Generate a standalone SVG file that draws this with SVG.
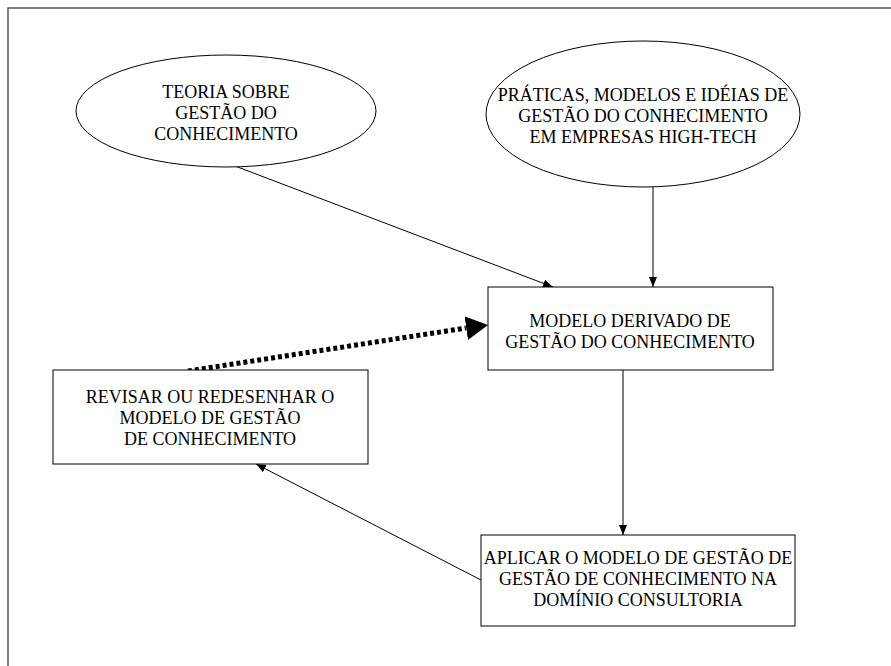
<svg xmlns="http://www.w3.org/2000/svg" width="891" height="666" viewBox="0 0 891 666">
<style>
.shape{fill:#fff;stroke:#000;stroke-width:1}
.frame{fill:none;stroke:#555;stroke-width:1.5}
.t{font-family:"Liberation Serif","Times New Roman",serif;font-size:18px;fill:#000;text-anchor:middle}
.c{fill:none;stroke:#000;stroke-width:1}
.d{fill:none;stroke:#000;stroke-width:5;stroke-dasharray:4 3}
</style>
<defs>
<marker id="ah" markerWidth="10" markerHeight="8" refX="10" refY="4" orient="auto" markerUnits="userSpaceOnUse">
<path d="M0,0 L10,4 L0,8 Z" fill="#000"/>
</marker>
<marker id="big" markerWidth="22" markerHeight="24" refX="22" refY="12" orient="auto" markerUnits="userSpaceOnUse">
<path d="M0,0 L22,12 L0,24 Z" fill="#000"/>
</marker>
</defs>
<rect class="frame" x="8" y="8" width="900" height="680"/>
<g id="connectors">
<line class="c" x1="235" y1="166" x2="553" y2="287" marker-end="url(#ah)"/>
<line class="c" x1="653" y1="187" x2="653" y2="287" marker-end="url(#ah)"/>
<line class="c" x1="623" y1="370" x2="623" y2="535" marker-end="url(#ah)"/>
<line class="c" x1="481" y1="580" x2="256" y2="464" marker-end="url(#ah)"/>
<line class="d" x1="188" y1="371" x2="466" y2="328"/>
<line class="c" x1="460" y1="329" x2="488" y2="325" style="stroke-width:0" marker-end="url(#big)"/>
</g>
<g id="teoria">
<ellipse class="shape" cx="226" cy="111" rx="150" ry="56"/>
<text class="t" x="226" y="98">TEORIA SOBRE</text>
<text class="t" x="226" y="119">GESTÃO DO</text>
<text class="t" x="226" y="140">CONHECIMENTO</text>
</g>
<g id="praticas">
<ellipse class="shape" cx="643" cy="114" rx="157" ry="73"/>
<text class="t" x="643" y="101">PRÁTICAS, MODELOS E IDÉIAS DE</text>
<text class="t" x="643" y="122">GESTÃO DO CONHECIMENTO</text>
<text class="t" x="643" y="143">EM EMPRESAS HIGH-TECH</text>
</g>
<g id="modelo">
<rect class="shape" x="488" y="287" width="285" height="83"/>
<text class="t" x="630" y="327">MODELO DERIVADO DE</text>
<text class="t" x="630" y="348">GESTÃO DO CONHECIMENTO</text>
</g>
<g id="revisar">
<rect class="shape" x="53" y="370" width="315" height="94"/>
<text class="t" x="210" y="403">REVISAR OU REDESENHAR O</text>
<text class="t" x="210" y="424">MODELO DE GESTÃO</text>
<text class="t" x="210" y="445">DE CONHECIMENTO</text>
</g>
<g id="aplicar">
<rect class="shape" x="481" y="535" width="314" height="91"/>
<text class="t" x="638" y="564">APLICAR O MODELO DE GESTÃO DE</text>
<text class="t" x="638" y="585">GESTÃO DE CONHECIMENTO NA</text>
<text class="t" x="638" y="606">DOMÍNIO CONSULTORIA</text>
</g>
</svg>
